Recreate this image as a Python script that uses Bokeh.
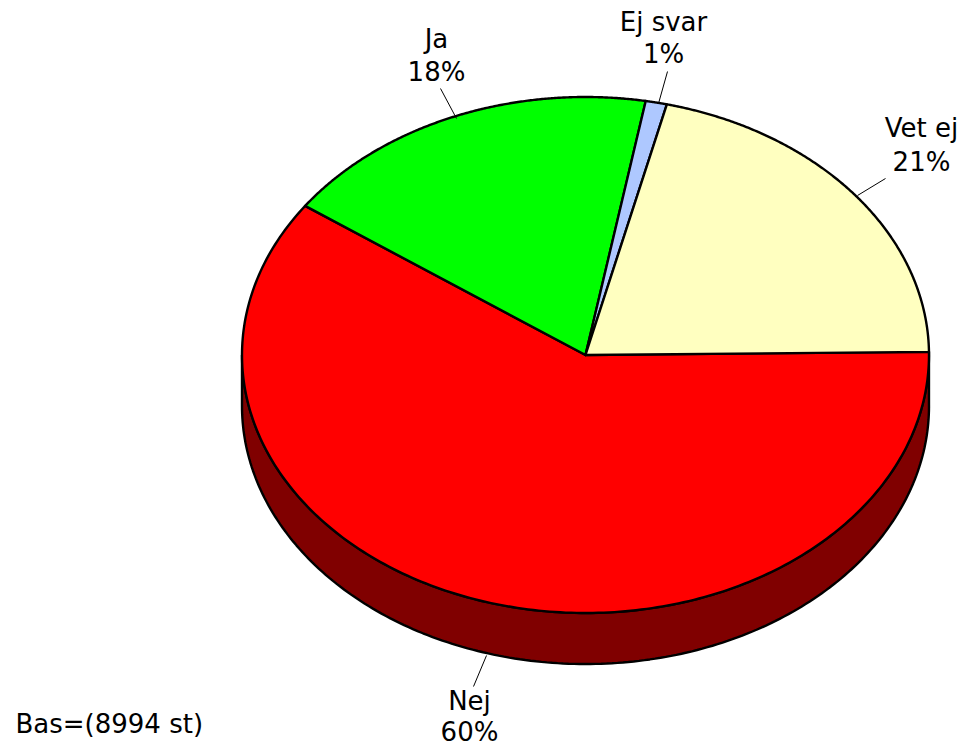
import numpy as np
from bokeh.plotting import figure
from bokeh.embed import file_html
from bokeh.resources import INLINE
from bokeh.models import Range1d
from bokeh.core.properties import value

# Chart data
categories = ["Vet ej", "Nej", "Ja", "Ej svar"]
shares = [21, 60, 18, 1]
percent_labels = ["21%", "60%", "18%", "1%"]
colors = ["#FFFFC0", "#FF0000", "#00FF00", "#AEC8FF"]
note = "Bas=(8994 st)"

# Pie geometry in picture pixels
cx, cy = 585.0, 354.5
rx, ry = 343.5, 258.0
depth = 51.0
start_deg = -0.7
wall_color = "#800000"

# Label placement in picture pixels: centre x, name y, percent y
label_x = [921, 469, 436, 663]
name_y = [127, 700, 38, 21]
pct_y = [161, 731, 71, 53]
note_y = 723
leaders = [((857, 195), (885, 178)), ((486, 655), (473, 686)),
           ((456, 118), (440, 88)), ((658, 103), (667, 71))]
font_px = "26px"

W, H = 963, 748
p = figure(width=W, height=H, output_backend="svg", toolbar_location=None,
           x_range=Range1d(0, W), y_range=Range1d(H, 0),
           min_border=0, outline_line_color=None, background_fill_color="white")
p.axis.visible = False
p.grid.visible = False

# Side wall of the disc (front half only)
t = np.radians(np.linspace(start_deg, 180, 200))
wx = cx + rx * np.cos(t)
wy = cy + ry * np.sin(t)
p.patch(np.r_[wx, wx[::-1]], np.r_[wy, wy[::-1] + depth],
        fill_color=wall_color, line_color="black", line_width=2.4)

# Sequence around the pie, clockwise on screen from the right edge: Nej, Ja, Ej svar, Vet ej
seq = [1, 2, 3, 0]
ang = start_deg
for i in seq:
    sweep = shares[i] / sum(shares) * 360.0
    tt = np.radians(np.linspace(ang, ang + sweep, 240))
    xs = np.r_[cx, cx + rx * np.cos(tt)]
    ys = np.r_[cy, cy + ry * np.sin(tt)]
    p.patch(xs, ys, fill_color=colors[i], line_color="black", line_width=2.4, line_join="round")
    ang += sweep

# Leader lines
for (a, b) in leaders:
    p.line([a[0], b[0]], [a[1], b[1]], line_color="black", line_width=1)

# Labels
font = value("DejaVu Sans")
p.text(label_x, name_y, text=categories, text_align="center", text_baseline="alphabetic",
       text_font=font, text_font_size=font_px, text_color="black")
p.text(label_x, pct_y, text=percent_labels, text_align="center", text_baseline="alphabetic",
       text_font=font, text_font_size=font_px, text_color="black")
p.text([15], [note_y], text=[note], text_align="left", text_baseline="alphabetic",
       text_font=font, text_font_size=font_px, text_color="black")

open("out.html", "w").write(file_html(p, INLINE))
